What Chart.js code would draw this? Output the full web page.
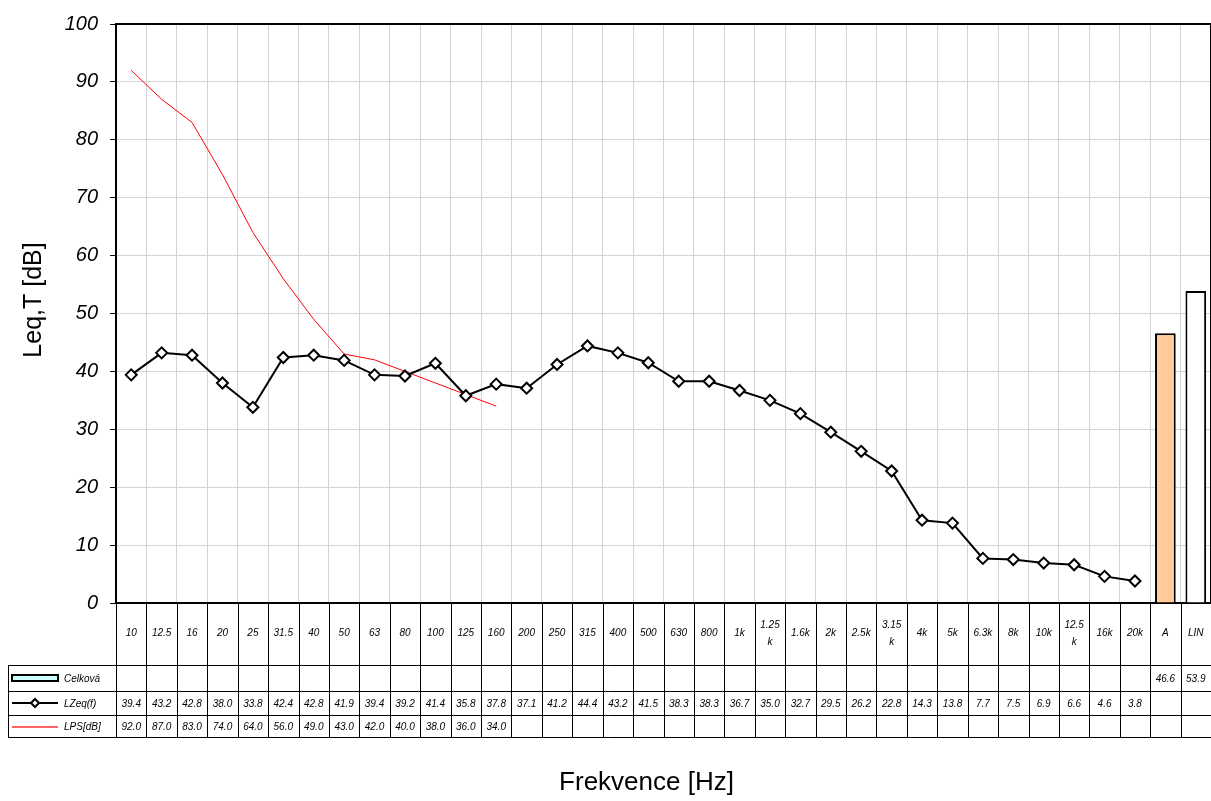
<!DOCTYPE html>
<html>
<head>
<meta charset="utf-8">
<script src="https://cdn.jsdelivr.net/npm/chart.js@4.4.1/dist/chart.umd.min.js"></script>
<style>
  body { margin: 0; background: #fff; }
  canvas { display: block; }
</style>
</head>
<body>
<canvas id="chart" width="1211" height="801"></canvas>
<script>
const categories = ['10', '12.5', '16', '20', '25', '31.5', '40', '50', '63', '80', '100', '125', '160',
  '200', '250', '315', '400', '500', '630', '800', '1k', '1.25k', '1.6k', '2k', '2.5k', '3.15k',
  '4k', '5k', '6.3k', '8k', '10k', '12.5k', '16k', '20k', 'A', 'LIN'];
const lzeq = [39.4, 43.2, 42.8, 38.0, 33.8, 42.4, 42.8, 41.9, 39.4, 39.2, 41.4, 35.8, 37.8,
  37.1, 41.2, 44.4, 43.2, 41.5, 38.3, 38.3, 36.7, 35.0, 32.7, 29.5, 26.2, 22.8,
  14.3, 13.8, 7.7, 7.5, 6.9, 6.6, 4.6, 3.8];
const lps = [92.0, 87.0, 83.0, 74.0, 64.0, 56.0, 49.0, 43.0, 42.0, 40.0, 38.0, 36.0, 34.0];
const totalLabels = ['A', 'LIN'];
const totalValues = [46.6, 53.9];
const yTicks = [0, 10, 20, 30, 40, 50, 60, 70, 80, 90, 100];

const seriesNames = ['Celková', 'LZeq(f)', 'LPS[dB]'];

const totalData = categories.map(c => {
  const k = totalLabels.indexOf(c);
  return k < 0 ? null : totalValues[k];
});
const lzeqData = categories.map((c, i) => i < lzeq.length ? lzeq[i] : null);
const lpsData = categories.map((c, i) => i < lps.length ? lps[i] : null);

const barFill = { A: '#FFCC99', LIN: '#FFFFFF' };
const tableFont = 'italic 10px "Liberation Sans Narrow", "Liberation Sans", Arial, sans-serif';
const legendFont = 'italic 10px "Liberation Sans", Arial, sans-serif';
const titleFont = '"Liberation Sans", Arial, sans-serif';

const dataTable = {
  id: 'dataTable',
  beforeDatasetsDraw(chart) {
    const { ctx, chartArea: a } = chart;
    ctx.save();
    ctx.strokeStyle = '#000';
    ctx.lineWidth = 2;
    ctx.strokeRect(a.left, a.top, a.width, a.height);
    ctx.restore();
  },
  afterDraw(chart) {
    const { ctx, chartArea: a, scales: { x } } = chart;
    const n = categories.length;
    const cw = a.width / n;
    const catBottom = a.bottom + 62;
    const rowBottoms = [catBottom + 26, catBottom + 50, catBottom + 72];
    const legendLeft = 8.5;

    ctx.save();
    ctx.strokeStyle = '#000';
    ctx.lineWidth = 1;
    ctx.beginPath();
    // cell borders
    for (let i = 0; i <= n; i++) {
      const xx = Math.round(a.left + i * cw) + 0.5;
      ctx.moveTo(xx, a.bottom);
      ctx.lineTo(xx, rowBottoms[2]);
    }
    [catBottom, ...rowBottoms].forEach(y => {
      ctx.moveTo(legendLeft, y + 0.5);
      ctx.lineTo(a.right, y + 0.5);
    });
    ctx.moveTo(legendLeft, catBottom);
    ctx.lineTo(legendLeft, rowBottoms[2] + 1);
    ctx.stroke();

    // category labels
    ctx.fillStyle = '#000';
    ctx.textAlign = 'center';
    ctx.textBaseline = 'middle';
    ctx.font = tableFont;
    const catMid = (a.bottom + catBottom) / 2 - 1;
    categories.forEach((c, i) => {
      const cx = x.getPixelForValue(i);
      if (ctx.measureText(c).width > cw - 8 && c.endsWith('k')) {
        ctx.fillText(c.slice(0, -1), cx, catMid - 8);
        ctx.fillText('k', cx, catMid + 9);
      } else {
        ctx.fillText(c, cx, catMid);
      }
    });

    // value rows
    const rowMids = [
      (catBottom + rowBottoms[0]) / 2,
      (rowBottoms[0] + rowBottoms[1]) / 2,
      (rowBottoms[1] + rowBottoms[2]) / 2
    ];
    [totalData, lzeqData, lpsData].forEach((data, r) => {
      data.forEach((v, i) => {
        if (v === null) return;
        ctx.fillText(v.toFixed(1), x.getPixelForValue(i), rowMids[r] + 1);
      });
    });

    // legend keys
    const kx0 = 12, kx1 = 58, kmid = 35;
    ctx.lineWidth = 2;
    ctx.fillStyle = '#CCFFFF';
    ctx.fillRect(kx0, rowMids[0] - 3, kx1 - kx0, 6);
    ctx.strokeRect(kx0, rowMids[0] - 3, kx1 - kx0, 6);

    ctx.beginPath();
    ctx.moveTo(kx0, rowMids[1]);
    ctx.lineTo(kx1, rowMids[1]);
    ctx.stroke();
    ctx.beginPath();
    ctx.moveTo(kmid - 4, rowMids[1]);
    ctx.lineTo(kmid, rowMids[1] - 4);
    ctx.lineTo(kmid + 4, rowMids[1]);
    ctx.lineTo(kmid, rowMids[1] + 4);
    ctx.closePath();
    ctx.fillStyle = '#fff';
    ctx.fill();
    ctx.stroke();

    ctx.strokeStyle = '#FF3030';
    ctx.lineWidth = 1.5;
    ctx.beginPath();
    ctx.moveTo(kx0, rowMids[2] + 1);
    ctx.lineTo(kx1, rowMids[2] + 1);
    ctx.stroke();

    ctx.fillStyle = '#000';
    ctx.font = legendFont;
    ctx.textAlign = 'left';
    seriesNames.forEach((s, r) => ctx.fillText(s, 64, rowMids[r] + 1));

    // axis titles
    ctx.textAlign = 'center';
    ctx.font = '26px ' + titleFont;
    ctx.fillText('Frekvence [Hz]', (a.left + a.right) / 2 - 17, 783);
    ctx.font = '25px ' + titleFont;
    ctx.translate(34, 300);
    ctx.rotate(-Math.PI / 2);
    ctx.fillText('Leq,T [dB]', 0, 0);
    ctx.restore();
  }
};

new Chart(document.getElementById('chart'), {
  data: {
    labels: categories,
    datasets: [
      {
        type: 'bar',
        label: seriesNames[0],
        data: totalData,
        backgroundColor: ctx => barFill[categories[ctx.dataIndex]] || '#CCFFFF',
        borderColor: '#000',
        borderWidth: 2,
        barPercentage: 0.68,
        categoryPercentage: 1
      },
      {
        type: 'line',
        label: seriesNames[1],
        data: lzeqData,
        borderColor: '#000',
        borderWidth: 2,
        tension: 0,
        pointStyle: 'rectRot',
        pointRadius: 5.5,
        pointBorderWidth: 2,
        pointBackgroundColor: '#fff',
        pointBorderColor: '#000'
      },
      {
        type: 'line',
        label: seriesNames[2],
        data: lpsData,
        borderColor: '#FF0000',
        borderWidth: 1,
        tension: 0,
        pointRadius: 0
      }
    ]
  },
  options: {
    responsive: false,
    animation: false,
    events: [],
    layout: { autoPadding: false, padding: { top: 21, left: 0, right: 0, bottom: 0 } },
    plugins: {
      legend: { display: false },
      tooltip: { enabled: false }
    },
    scales: {
      x: {
        offset: true,
        grid: { offset: true, color: '#D4D4D4', lineWidth: 1, drawTicks: false },
        border: { display: false },
        ticks: { display: false },
        afterFit: s => { s.height = 198; }
      },
      y: {
        min: 0,
        max: 100,
        afterBuildTicks: s => { s.ticks = yTicks.map(v => ({ value: v })); },
        grid: { color: '#D4D4D4', lineWidth: 1, tickColor: '#000', tickLength: 6 },
        border: { display: false },
        ticks: {
          color: '#000',
          padding: 12,
          font: { family: titleFont, size: 20, style: 'italic' }
        },
        afterFit: s => { s.width = 116; }
      }
    }
  },
  plugins: [dataTable]
});
</script>
</body>
</html>
